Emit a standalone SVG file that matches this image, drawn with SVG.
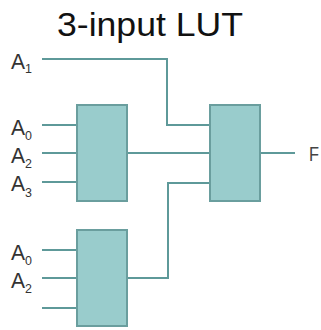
<svg xmlns="http://www.w3.org/2000/svg" width="321" height="330" viewBox="0 0 321 330">
<style>
.box{fill:#99CCCC;stroke:#6A9E9E;stroke-width:2}
.w{fill:none;stroke:#5E9999;stroke-width:2}
.lbl{font-family:"Liberation Sans",Arial,sans-serif;font-size:22px;fill:#333}
.sub{font-size:13px}
.title{font-family:"Liberation Sans",Arial,sans-serif;font-size:33px;fill:#111}
</style>
<rect width="321" height="330" fill="#fff"/>
<text class="title" x="57" y="36" textLength="186" lengthAdjust="spacingAndGlyphs">3-input LUT</text>
<g id="connectors">
<polyline class="w" points="42,59 167,59 167,125 210,125"/>
<line class="w" x1="42" y1="125" x2="77" y2="125"/>
<line class="w" x1="42" y1="153" x2="77" y2="153"/>
<line class="w" x1="42" y1="182" x2="77" y2="182"/>
<line class="w" x1="127" y1="153" x2="210" y2="153"/>
<line class="w" x1="42" y1="250" x2="77" y2="250"/>
<line class="w" x1="42" y1="278" x2="77" y2="278"/>
<line class="w" x1="42" y1="308" x2="77" y2="308"/>
<polyline class="w" points="127,278 168,278 168,183 210,183"/>
<line class="w" x1="260" y1="153" x2="295" y2="153"/>
</g>
<g id="lut1"><rect class="box" x="77" y="105" width="50" height="96"/></g>
<g id="lut2"><rect class="box" x="77" y="230" width="50" height="96"/></g>
<g id="lut3"><rect class="box" x="210" y="105" width="50" height="96"/></g>
<g id="labels">
<text class="lbl" x="11" y="69" textLength="21" lengthAdjust="spacingAndGlyphs">A<tspan class="sub" dy="4">1</tspan></text>
<text class="lbl" x="11" y="135" textLength="21" lengthAdjust="spacingAndGlyphs">A<tspan class="sub" dy="5">0</tspan></text>
<text class="lbl" x="11" y="163" textLength="21" lengthAdjust="spacingAndGlyphs">A<tspan class="sub" dy="5">2</tspan></text>
<text class="lbl" x="11" y="191" textLength="21" lengthAdjust="spacingAndGlyphs">A<tspan class="sub" dy="6">3</tspan></text>
<text class="lbl" x="11" y="260" textLength="21" lengthAdjust="spacingAndGlyphs">A<tspan class="sub" dy="5">0</tspan></text>
<text class="lbl" x="11" y="288" textLength="21" lengthAdjust="spacingAndGlyphs">A<tspan class="sub" dy="5">2</tspan></text>
<text class="lbl" x="309" y="161" textLength="10" lengthAdjust="spacingAndGlyphs" style="fill:#444;font-size:21px">F</text>
</g>
</svg>
